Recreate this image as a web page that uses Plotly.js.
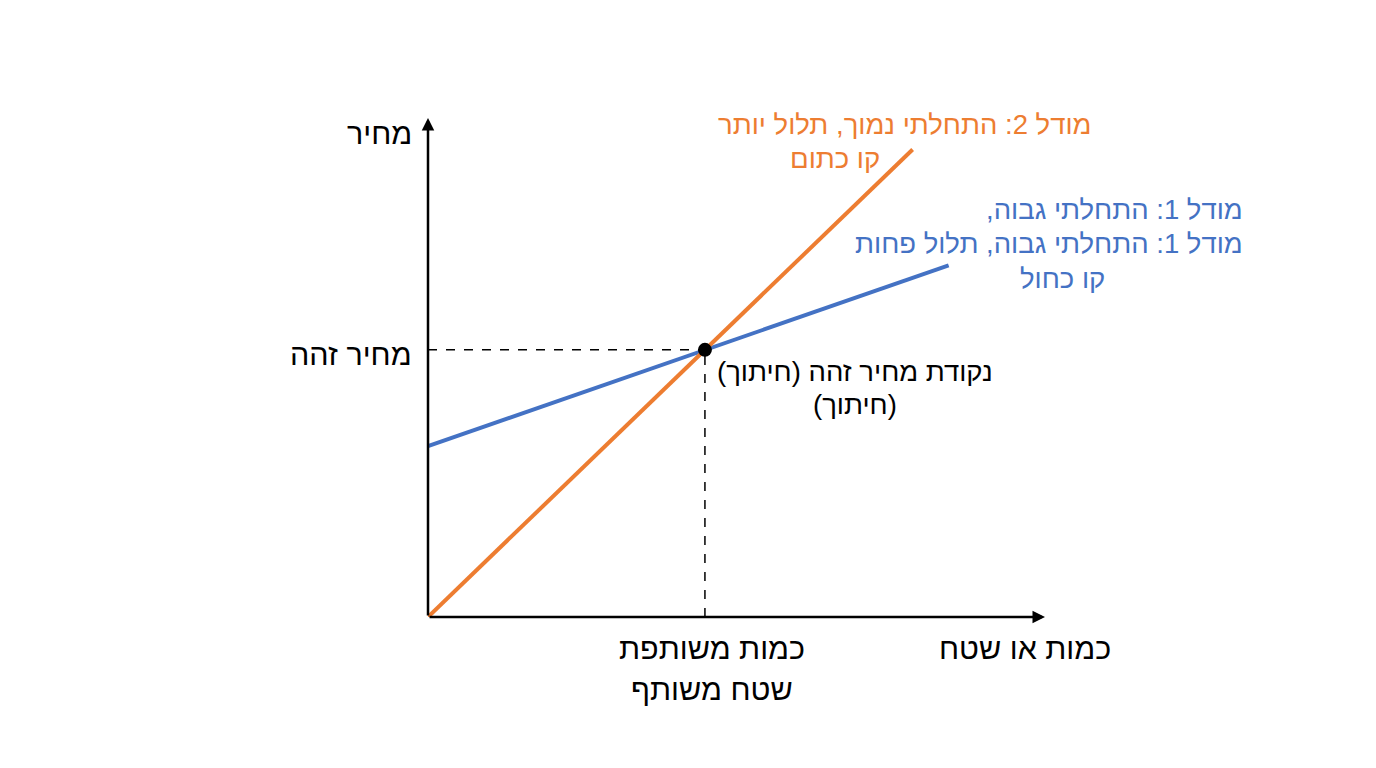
<!DOCTYPE html>
<html>
<head>
<meta charset="utf-8">
<script src="https://cdn.plot.ly/plotly-3.0.1.min.js"></script>
<style>
  html, body { margin: 0; padding: 0; background: #fff; }
  #chart { width: 1376px; height: 768px; }
</style>
</head>
<body>
<div id="chart"></div>
<script>
// line endpoints (quantity, price)
const orangeX = [0, 8.75];
const orangeY = [0, 8.75];
const blueX = [0, 9.4];
const blueY = [3.2, 6.58];
const crossX = [5];
const crossY = [5];

const xMax = 11.14;
const yMax = 9.34;

const RLM = '\u200F';
const heb = s => RLM + s + RLM;

const ORANGE = '#ED7D31';
const BLUE = '#4472C4';
const FONT = 'Liberation Sans, Arial, DejaVu Sans, sans-serif';

const traces = [
  {
    x: [0, crossX[0]], y: [crossY[0], crossY[0]],
    mode: 'lines', line: { color: '#000', width: 1.5, dash: 'dash' },
    hoverinfo: 'skip'
  },
  {
    x: [crossX[0], crossX[0]], y: [0, crossY[0]],
    mode: 'lines', line: { color: '#000', width: 1.5, dash: 'dash' },
    hoverinfo: 'skip'
  },
  {
    x: blueX, y: blueY, mode: 'lines',
    line: { color: BLUE, width: 4 }
  },
  {
    x: orangeX, y: orangeY, mode: 'lines',
    line: { color: ORANGE, width: 4 }
  },
  {
    x: crossX, y: crossY, mode: 'markers',
    marker: { color: '#000', size: 14 }
  }
];

// labels sit outside the axis ranges, so place them in paper units
function txt(x, y, text, color, size, xanchor) {
  return {
    x: x / xMax, y: y / yMax, xref: 'paper', yref: 'paper', text: text, showarrow: false,
    xanchor: xanchor || 'center', yanchor: 'middle',
    align: xanchor === 'right' ? 'right' : 'center',
    font: { family: FONT, size: size || 24, color: color || '#000' }
  };
}

const annotations = [
  // axes with arrow heads
  { x: xMax, y: 0, ax: 0, ay: 0, axref: 'x', ayref: 'y', xref: 'x', yref: 'y',
    showarrow: true, arrowhead: 2, arrowsize: 1, arrowwidth: 2.5, arrowcolor: '#000', text: '' },
  { x: 0, y: yMax, ax: 0, ay: 0, axref: 'x', ayref: 'y', xref: 'x', yref: 'y',
    showarrow: true, arrowhead: 2, arrowsize: 1, arrowwidth: 2.5, arrowcolor: '#000', text: '' },

  txt(-0.26, 9.06, heb('מחיר'), '#000', 30.5, 'right'),
  txt(-0.26, 4.92, heb('מחיר זהה'), '#000', 30.5, 'right'),
  txt(12.36, -0.58, heb('כמות או שטח'), '#000', 30.5, 'right'),
  txt(5.13, -0.58, heb('כמות משותפת'), '#000', 30.5),
  txt(5.13, -1.35, heb('שטח משותף'), '#000', 30.5),

  txt(7.71, 4.59, heb('נקודת מחיר זהה (חיתוך)'), '#000', 27.5),
  txt(7.71, 3.97, heb('(חיתוך)'), '#000', 27.5),

  txt(12.0, 9.21, heb('מודל 2: התחלתי נמוך, תלול יותר'), ORANGE, 27.5, 'right'),
  txt(7.34, 8.58, heb('קו כתום'), ORANGE, 27.5),

  txt(14.75, 7.62, heb('מודל 1: התחלתי גבוה,'), BLUE, 27.5, 'right'),
  txt(14.75, 7.0, heb('מודל 1: התחלתי גבוה, תלול פחות'), BLUE, 27.5, 'right'),
  txt(11.46, 6.33, heb('קו כחול'), BLUE, 27.5)
];

const layout = {
  width: 1376, height: 768,
  margin: { l: 428, r: 331, t: 118, b: 151 },
  paper_bgcolor: '#fff', plot_bgcolor: '#fff',
  showlegend: false,
  xaxis: { range: [0, xMax], showgrid: false, zeroline: false, showticklabels: false, ticks: '', showline: false, fixedrange: true },
  yaxis: { range: [0, yMax], showgrid: false, zeroline: false, showticklabels: false, ticks: '', showline: false, fixedrange: true },
  annotations: annotations
};

Plotly.newPlot('chart', traces, layout, { displayModeBar: false, staticPlot: true });
</script>
</body>
</html>
